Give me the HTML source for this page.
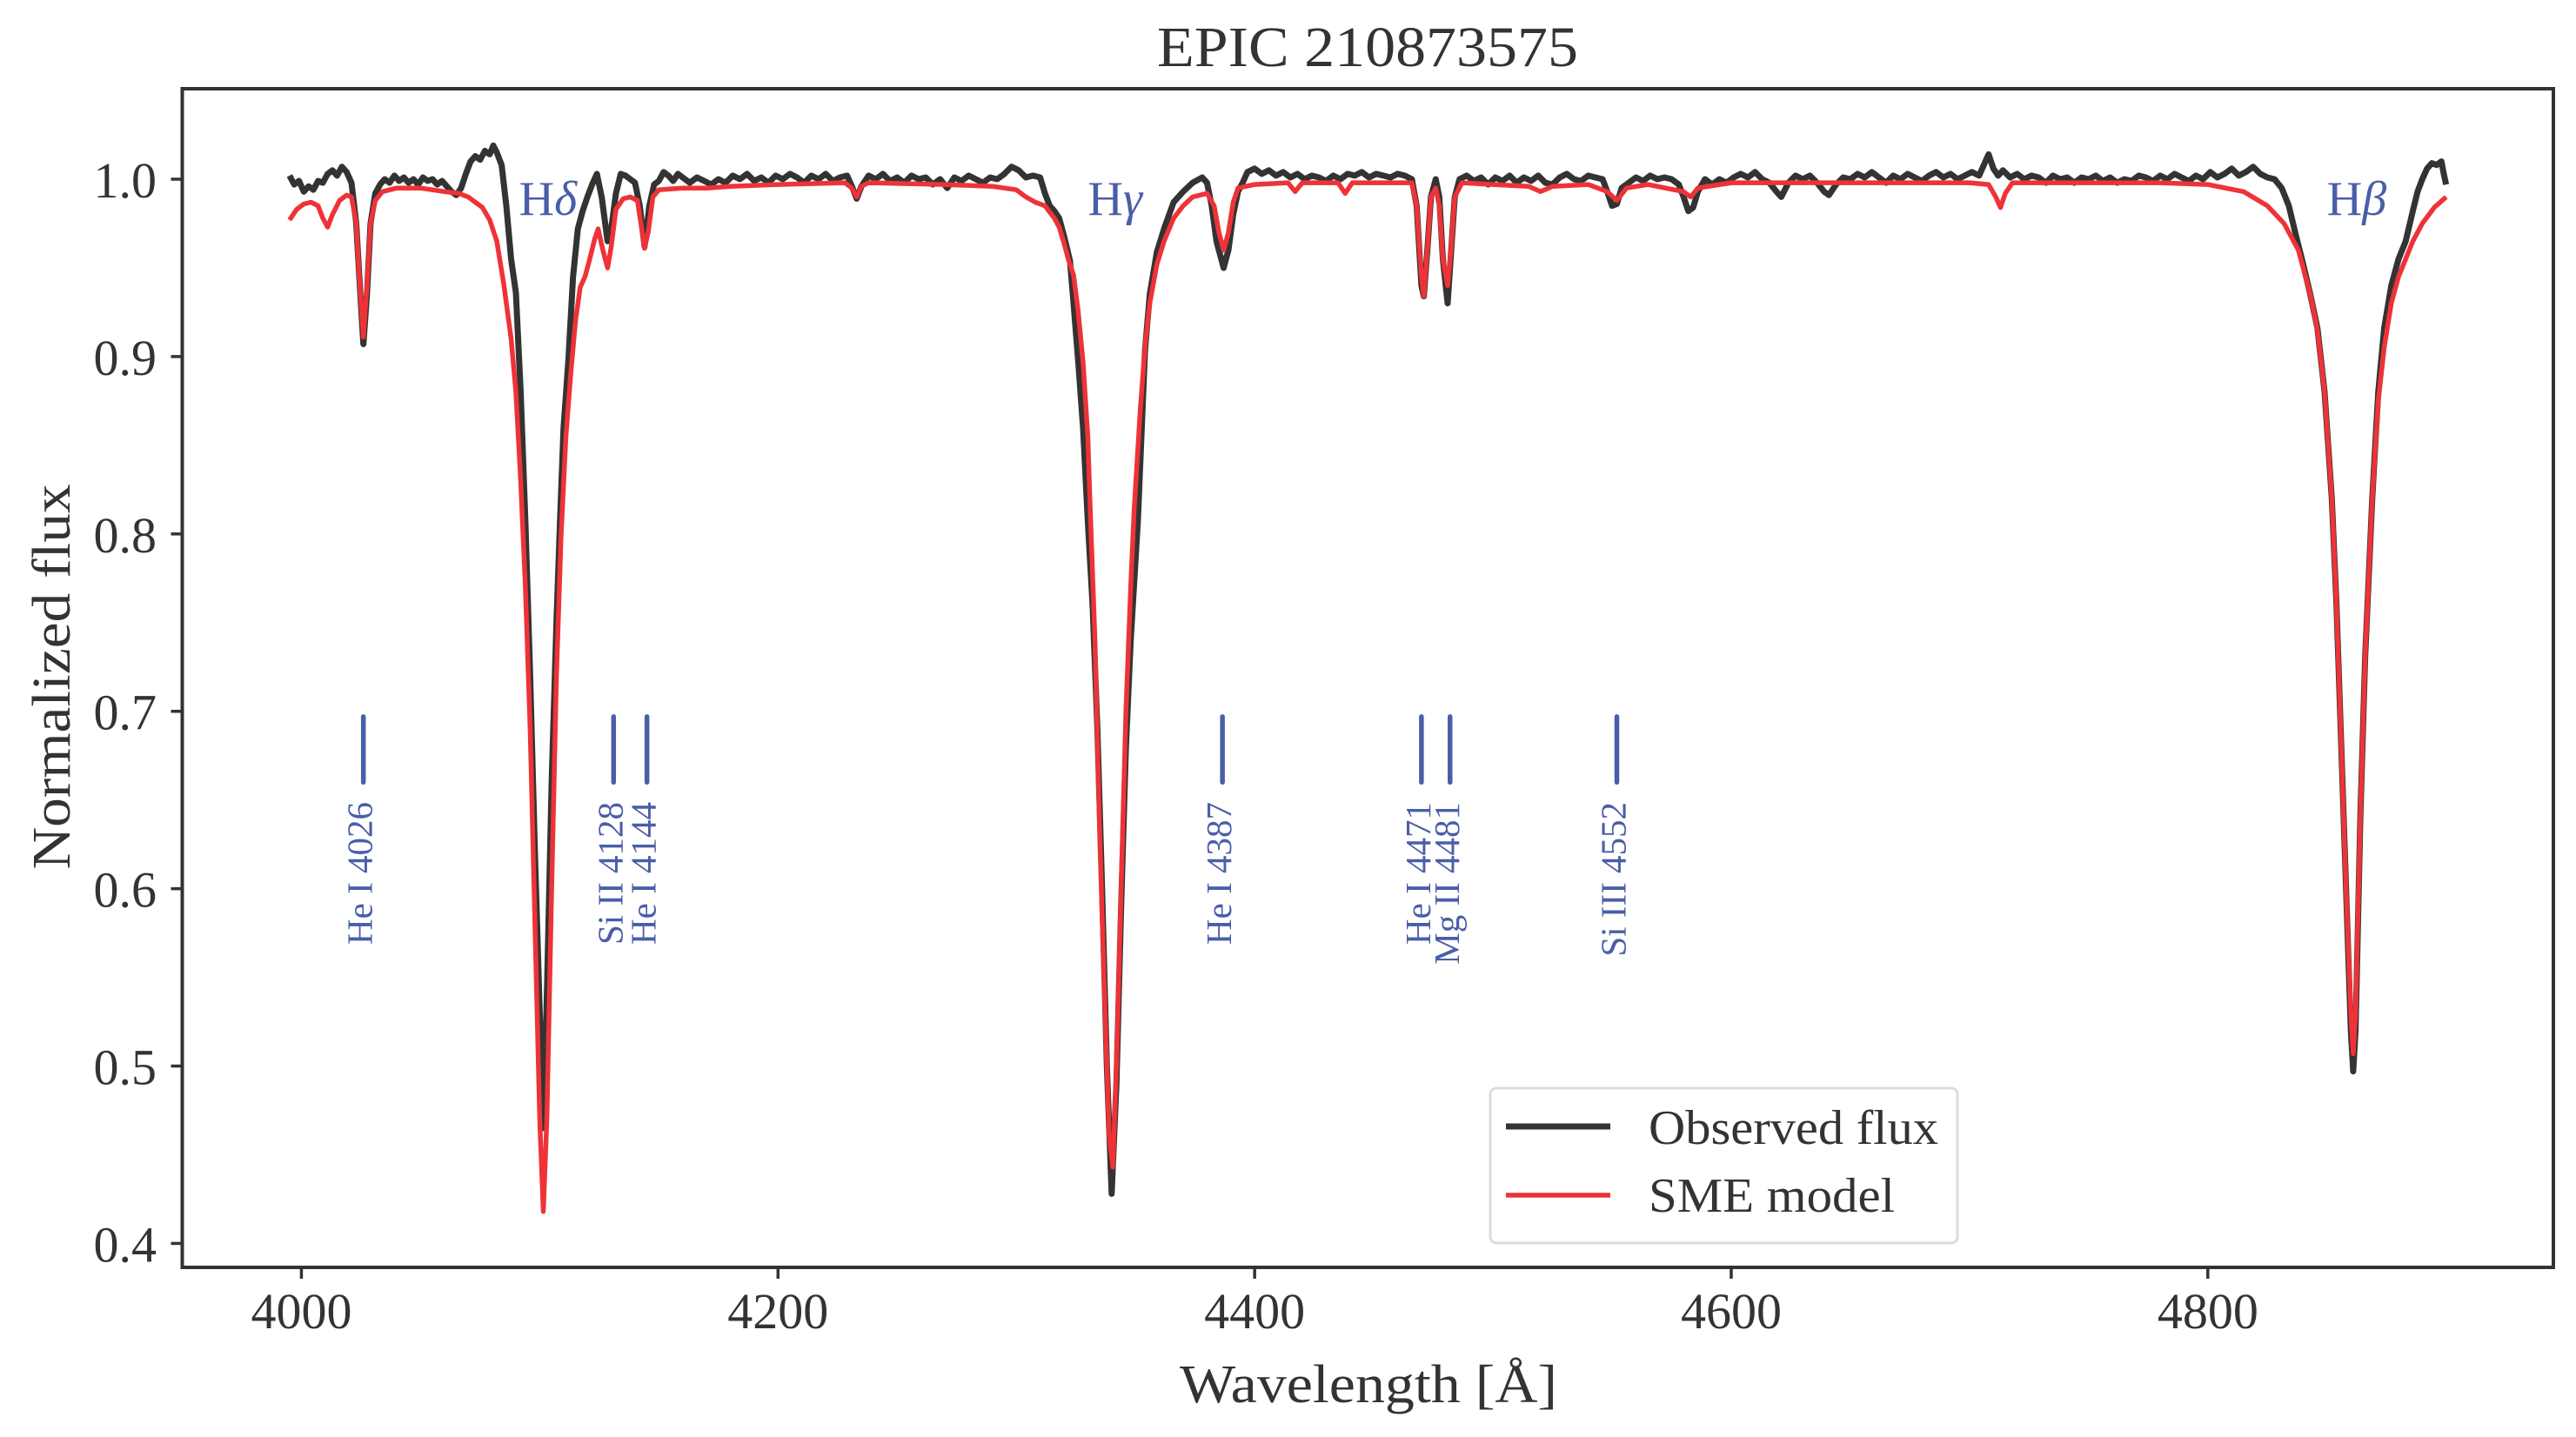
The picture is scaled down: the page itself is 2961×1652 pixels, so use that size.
<!DOCTYPE html>
<html><head><meta charset="utf-8"><title>EPIC 210873575</title>
<style>
html,body{margin:0;padding:0;background:#fff;}
svg{display:block;font-family:"Liberation Serif",serif;}
</style></head>
<body>
<svg id="chart" xmlns="http://www.w3.org/2000/svg" width="2961" height="1652" viewBox="0 0 2961 1652">
<rect x="0" y="0" width="2961" height="1652" fill="#fff"/>
<text x="1572" y="76" font-size="66" text-anchor="middle" fill="#333" textLength="484" lengthAdjust="spacingAndGlyphs">EPIC 210873575</text>
<g id="plot"></g>
<g id="axes"></g>
<text x="1573" y="1612" font-size="62" text-anchor="middle" fill="#333" textLength="434" lengthAdjust="spacingAndGlyphs">Wavelength  [Å]</text>
<text transform="translate(80,778) rotate(-90)" font-size="62" text-anchor="middle" fill="#333" textLength="443" lengthAdjust="spacingAndGlyphs">Normalized flux</text>
<g>
<rect x="1713" y="1251" width="537" height="178" rx="7" fill="#fff" stroke="#dcdcdc" stroke-width="3"/>
<line x1="1731" y1="1295" x2="1851" y2="1295" stroke="#333" stroke-width="7"/>
<text x="1895" y="1315" font-size="56" fill="#333" textLength="333" lengthAdjust="spacingAndGlyphs">Observed flux</text>
<line x1="1731" y1="1374" x2="1851" y2="1374" stroke="#ee3338" stroke-width="5.5"/>
<text x="1895" y="1393" font-size="56" fill="#333" textLength="283" lengthAdjust="spacingAndGlyphs">SME model</text>
</g>
</svg>
<script>
const obsWave=[3995,3997,3999,4001,4003,4005,4007,4009,4011,4013,4015,4017,4019,4021,4023,4024.5,4026,4027.5,4029,4031,4033,4035,4037,4039,4041,4043,4045,4047,4049,4051,4053,4055,4057,4059,4061,4063,4065,4067,4069,4071,4073,4075,4077,4079,4080.5,4082,4084,4086,4088,4090,4092,4094,4096,4098,4100,4101.5,4103,4105,4107,4108.5,4110,4112,4114,4116,4118,4120,4122,4124,4126,4128.5,4130,4132,4134,4136,4138,4140,4142,4144,4146,4148,4150,4152,4154,4156,4158,4160,4163,4166,4169,4172,4175,4178,4181,4184,4187,4190,4193,4196,4199,4202,4205,4208,4211,4214,4217,4220,4223,4226,4229,4231,4233,4235,4238,4241,4244,4247,4250,4253,4256,4259,4262,4265,4268,4271,4274,4277,4280,4283,4286,4289,4292,4295,4298,4301,4304,4307,4310,4312,4314,4316,4318,4320,4322.5,4324,4326,4328,4330,4332,4334,4336,4338,4340,4342,4344,4346,4348,4351,4354,4356,4359,4362,4366,4370,4374,4378,4380,4382,4384,4386,4387,4389,4391,4393,4395,4397,4400,4403,4406,4409,4412,4415,4418,4421,4424,4427,4430,4433,4436,4439,4442,4445,4448,4451,4454,4457,4460,4463,4466,4468,4470,4471,4472.5,4474,4476,4477.5,4479,4481,4482.5,4484,4486,4489,4492,4495,4498,4501,4504,4507,4510,4513,4516,4519,4522,4525,4528,4531,4534,4537,4540,4543,4546,4548,4550,4552,4554,4557,4560,4563,4566,4569,4572,4575,4578,4580,4582,4584,4586,4589,4592,4595,4598,4601,4604,4607,4610,4613,4616,4619,4621,4624,4627,4630,4633,4636,4639,4641,4644,4647,4650,4653,4656,4659,4662,4665,4668,4671,4674,4677,4680,4683,4686,4689,4692,4695,4698,4701,4704,4706,4708,4710,4712,4714,4717,4720,4723,4726,4729,4732,4735,4738,4741,4744,4747,4750,4753,4756,4759,4762,4765,4768,4771,4774,4777,4780,4783,4786,4789,4792,4795,4798,4801,4804,4807,4810,4813,4816,4819,4822,4825,4828,4831,4834,4837,4840,4843,4846,4849,4852,4854,4856,4858,4860,4861,4862,4864,4866,4869,4871.5,4874,4877,4880,4883,4886,4888,4890,4892,4894,4896,4898,4899,4900];
const obsFlux=[1.002,0.997,0.999,0.993,0.996,0.994,0.999,0.998,1.003,1.005,1.002,1.007,1.004,0.998,0.975,0.94,0.907,0.935,0.975,0.992,0.997,1.000,0.998,1.002,0.999,1.001,0.998,1.000,0.997,1.001,0.999,1.000,0.997,0.999,0.996,0.993,0.991,0.995,1.003,1.010,1.013,1.011,1.016,1.014,1.019,1.015,1.008,0.985,0.955,0.936,0.88,0.807,0.72,0.62,0.53,0.465,0.54,0.66,0.75,0.807,0.86,0.897,0.945,0.972,0.982,0.99,0.997,1.003,0.99,0.965,0.972,0.992,1.003,1.002,1.000,0.998,0.985,0.962,0.985,0.997,0.999,1.004,1.002,0.999,1.003,1.001,0.998,1.001,0.999,0.997,1.000,0.998,1.002,1.000,1.003,0.999,1.001,0.998,1.002,1.000,1.003,1.001,0.998,1.002,1.000,1.003,0.999,1.001,1.002,0.996,0.989,0.996,1.002,1.000,1.003,0.999,1.001,0.998,1.002,1.000,1.001,0.997,1.000,0.995,1.001,0.999,1.002,1.000,0.998,1.001,1.000,1.003,1.007,1.005,1.001,1.002,1.001,0.992,0.985,0.982,0.978,0.968,0.954,0.93,0.897,0.86,0.807,0.76,0.69,0.6,0.5,0.428,0.49,0.59,0.68,0.74,0.807,0.903,0.935,0.959,0.972,0.987,0.993,0.998,1.001,0.998,0.985,0.965,0.955,0.95,0.96,0.98,0.993,0.998,1.004,1.006,1.003,1.005,1.002,1.004,1.001,1.003,1.000,1.002,1.001,0.999,1.002,1.000,1.003,1.002,1.004,1.001,1.003,1.002,1.001,1.003,1.002,1.000,0.985,0.94,0.934,0.96,0.99,1.000,0.99,0.955,0.93,0.96,0.99,1.000,1.002,0.999,1.001,0.997,1.001,0.999,1.002,0.998,1.001,0.999,1.002,0.998,0.997,1.001,1.003,1.000,0.999,1.002,1.001,1.000,0.993,0.985,0.986,0.995,0.998,1.001,0.999,1.002,1.000,1.001,1.000,0.997,0.99,0.982,0.984,0.993,1.000,0.997,1.000,0.998,1.001,1.003,1.001,1.004,1.000,0.998,0.993,0.990,0.998,1.002,1.000,1.002,0.998,0.993,0.991,0.997,1.001,1.000,1.003,1.001,1.004,1.001,0.998,1.002,1.000,1.003,1.001,0.999,1.002,1.004,1.001,1.003,1.000,1.002,1.004,1.002,1.008,1.014,1.006,1.002,1.005,1.001,1.003,1.000,1.002,1.001,0.998,1.002,1.000,1.001,0.998,1.001,1.000,1.002,0.999,1.001,0.998,1.000,0.999,1.002,1.001,0.999,1.002,1.000,1.003,1.001,0.999,1.002,1.000,1.004,1.001,1.003,1.006,1.002,1.004,1.007,1.003,1.001,1.000,0.995,0.985,0.968,0.952,0.935,0.916,0.88,0.82,0.76,0.68,0.6,0.52,0.497,0.52,0.64,0.73,0.82,0.88,0.916,0.94,0.955,0.965,0.982,0.993,1.000,1.006,1.009,1.008,1.010,1.003,0.997];
const modelWave=[3995,3998,4001,4004,4007,4009,4011,4013,4016,4019,4021,4023,4024.5,4026,4027.5,4029,4031,4034,4040,4050,4060,4066,4070,4073,4076,4079,4082,4085,4088,4090,4092,4094,4096,4098,4100,4101.5,4103,4105,4107,4109,4111,4113,4115,4117,4119,4121,4123,4124.5,4126.5,4128.5,4130,4132,4135,4138,4141,4143,4144,4145.5,4147.5,4150,4160,4170,4180,4200,4228,4231,4233,4235,4238,4270,4290,4300,4304,4308,4312,4316,4318,4320,4322,4324,4326,4328,4330,4331,4333,4335,4337,4339,4340.5,4342,4344,4346,4348,4349.5,4352,4354,4356,4359,4362,4366,4370,4374,4380,4383,4385,4387,4389,4391,4393,4400,4414,4417,4420,4435,4438,4441,4466,4468,4470,4471,4472.5,4474,4476,4477.5,4479,4481,4482.5,4484,4487,4500,4515,4520,4525,4540,4548,4552,4556,4565,4580,4583,4586,4600,4700,4708,4711,4713,4715,4718,4780,4800,4815,4825,4832,4838,4843,4846,4849,4852,4854,4856,4858,4860,4861,4862,4864,4866,4869,4871.5,4874,4877,4880,4883,4886,4890,4895,4900];
const modelFlux=[0.977,0.983,0.986,0.987,0.985,0.978,0.973,0.98,0.988,0.991,0.99,0.975,0.94,0.911,0.94,0.975,0.988,0.993,0.995,0.995,0.993,0.992,0.99,0.987,0.984,0.977,0.965,0.94,0.91,0.88,0.83,0.77,0.69,0.58,0.47,0.418,0.47,0.6,0.72,0.8,0.855,0.89,0.92,0.939,0.945,0.955,0.966,0.972,0.96,0.95,0.962,0.983,0.989,0.99,0.988,0.97,0.961,0.97,0.99,0.994,0.995,0.995,0.996,0.997,0.998,0.995,0.99,0.996,0.998,0.997,0.996,0.994,0.99,0.987,0.985,0.978,0.973,0.964,0.954,0.946,0.925,0.897,0.855,0.815,0.74,0.63,0.54,0.46,0.443,0.5,0.6,0.7,0.77,0.815,0.87,0.905,0.93,0.952,0.965,0.978,0.985,0.99,0.992,0.985,0.97,0.96,0.97,0.987,0.995,0.997,0.998,0.993,0.998,0.998,0.992,0.998,0.998,0.985,0.945,0.934,0.96,0.99,0.995,0.985,0.955,0.94,0.962,0.99,0.998,0.997,0.996,0.993,0.996,0.997,0.993,0.988,0.995,0.997,0.993,0.99,0.995,0.998,0.998,0.997,0.99,0.984,0.992,0.998,0.998,0.997,0.993,0.985,0.975,0.96,0.935,0.915,0.88,0.82,0.76,0.68,0.6,0.53,0.507,0.53,0.64,0.73,0.82,0.875,0.905,0.93,0.945,0.955,0.965,0.975,0.984,0.99];
const xTicks=[4000,4200,4400,4600,4800];
const yTicks=[0.4,0.5,0.6,0.7,0.8,0.9,1.0];
const lineMarkWave=[4026,4131,4145,4386.5,4470,4482,4552];
const lineMarkLabels=["He I 4026","Si II 4128","He I 4144","He I 4387","He I 4471","Mg II 4481","Si III 4552"];
const balmerWave=[4102,4340,4861];
const balmerGreek=["δ","γ","β"];

const NS="http://www.w3.org/2000/svg";
const X0=209.5,X1=2935,Y0=102,Y1=1457;
const xMin=3950,xMax=4945,yMin=0.3865,yMax=1.051;
function xs(v){return X0+(v-xMin)/(xMax-xMin)*(X1-X0);}
function ys(v){return Y1-(v-yMin)/(yMax-yMin)*(Y1-Y0);}
function mk(tag,attrs,parent){const e=document.createElementNS(NS,tag);for(const k in attrs)e.setAttribute(k,attrs[k]);parent.appendChild(e);return e;}
const plot=document.getElementById('plot');
const axes=document.getElementById('axes');

function pathFor(w,f){let d="";for(let i=0;i<w.length;i++){d+=(i?"L":"M")+xs(w[i]).toFixed(1)+","+ys(f[i]).toFixed(1);}return d;}
const obs=mk('path',{d:pathFor(obsWave,obsFlux),fill:'none',stroke:'#333','stroke-width':7,'stroke-linejoin':'round'},plot);


const mod=mk('path',{d:pathFor(modelWave,modelFlux),fill:'none',stroke:'#ee3338','stroke-width':5.5,'stroke-linejoin':'round'},plot);



for(let i=0;i<lineMarkWave.length;i++){
  const x=xs(lineMarkWave[i]);
  const b=mk('line',{x1:x,y1:ys(0.697),x2:x,y2:ys(0.660),stroke:'#4a5ea8','stroke-width':5.5,'stroke-linecap':'round'},plot);
  
  
  const t=mk('text',{transform:'translate('+(x+10)+',922) rotate(-90)','font-size':41,fill:'#4a5ea8','text-anchor':'end'},plot);
  t.textContent=lineMarkLabels[i];
  
  
}
for(let i=0;i<balmerWave.length;i++){
  const t=mk('text',{x:xs(balmerWave[i])+4,y:ys(0.98),'font-size':56,fill:'#4a5ea8','text-anchor':'middle'},plot);
  
  
  t.appendChild(document.createTextNode('H'));
  const s=mk('tspan',{'font-style':'italic'},t);
  s.textContent=balmerGreek[i];
}

const frame=mk('rect',{x:X0,y:Y0,width:X1-X0,height:Y1-Y0,fill:'none',stroke:'#333','stroke-width':4},axes);


for(const v of xTicks){
  const x=xs(v);
  const tk=mk('line',{x1:x,y1:Y1,x2:x,y2:Y1+13,stroke:'#333','stroke-width':3.5},axes);
  
  
  const t=mk('text',{x:x,y:1527,'font-size':58,fill:'#333','text-anchor':'middle'},axes);
  t.textContent=String(v);
  
  
}
for(const v of yTicks){
  const y=ys(v);
  const tk=mk('line',{x1:X0-13,y1:y,x2:X0,y2:y,stroke:'#333','stroke-width':3.5},axes);
  
  
  const t=mk('text',{x:180,y:y+21,'font-size':58,fill:'#333','text-anchor':'end'},axes);
  t.textContent=v.toFixed(1);
  
  
}
</script>
</body></html>
